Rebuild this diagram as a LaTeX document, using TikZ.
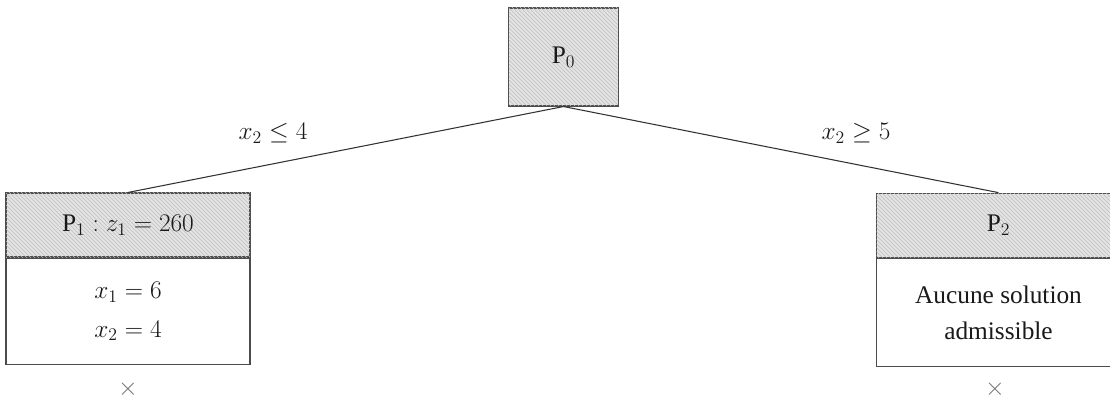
\documentclass[tikz,border=0pt]{standalone}
\usepackage{fix-cm}
\usepackage{amsmath, amssymb}
\usepackage{fontspec}
\setmainfont{Liberation Serif}
\usepackage{tikz}
\usetikzlibrary{patterns,positioning}

\begin{document}
\begin{tikzpicture}[x=0.75pt, y=-0.75pt,
    every node/.style={font=\fontsize{19}{23}\selectfont, text=black!90},
    hatched/.style={draw=black!70, line width=0.8pt, fill=gray!22,
      postaction={pattern=north west lines, pattern color=gray!50}, inner sep=0pt},
    plain/.style={draw=black!70, line width=0.8pt, fill=white, inner sep=0pt, align=center},
    branch/.style={draw=black!80, line width=0.8pt}]
            \useasboundingbox (0,0) rectangle (1110,399);
            % Root of the tree
            \node[hatched, minimum width=82pt, minimum height=73.5pt] (P0) at (563.5,57) {P$_0$};
            % Left subproblem
            \node[hatched, minimum width=183pt, minimum height=48pt] (P1) at (128,225) {P$_1 : z_1 = 260$};
            \node[plain, minimum width=183pt, minimum height=80pt, below=0pt of P1] (P1sol)
              {$x_1 = 6$\\[6pt]$x_2 = 4$};
            % Right subproblem
            \node[hatched, minimum width=183pt, minimum height=48.5pt] (P2) at (998.5,225.5) {P$_2$};
            \node[plain, minimum width=183pt, minimum height=81pt, below=0pt of P2] (P2sol)
              {Aucune solution\\[4pt]admissible};
            % Branches
            \draw[branch] (P0.south) -- (P1.north);
            \draw[branch] (P0.south) -- (P2.north);
            \node (b1) at (273,133) {$x_2 \leq 4$};
            \node (b2) at (856,133) {$x_2 \geq 5$};
            % Pruned nodes
            \node[text=black!55] (c1) at (128,389) {$\times$};
            \node[text=black!55] (c2) at (995,389) {$\times$};
          \end{tikzpicture}
\end{document}
